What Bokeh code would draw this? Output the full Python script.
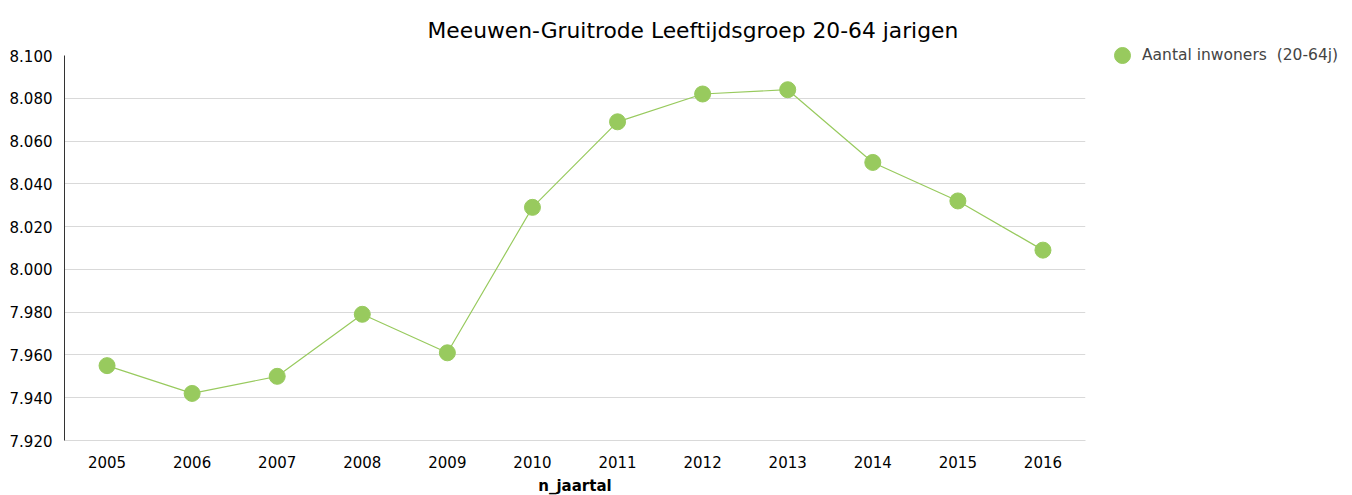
from bokeh.plotting import figure
from bokeh.models import (FixedTicker, CustomJSTickFormatter, Legend, LegendItem,
                          Range1d, Title, ColumnDataSource)
from bokeh.embed import file_html
from bokeh.resources import INLINE

years = [2005, 2006, 2007, 2008, 2009, 2010, 2011, 2012, 2013, 2014, 2015, 2016]
inwoners = [7955, 7942, 7950, 7979, 7961, 8029, 8069, 8082, 8084, 8050, 8032, 8009]
y_ticks = [7920, 7940, 7960, 7980, 8000, 8020, 8040, 8060, 8080, 8100]
title_text = "Meeuwen-Gruitrode  Leeftijdsgroep 20-64 jarigen"
series_name = "Aantal inwoners  (20-64j)"
x_label = "n_jaartal"

FONT = "DejaVu Sans"
GREEN = "#98CA5E"

p = figure(frame_width=1021, frame_height=385,
           output_backend="svg", toolbar_location=None,
           x_range=Range1d(2004.5, 2016.5), y_range=Range1d(7920, 8100),
           min_border_left=64, min_border_right=250, min_border_top=55, min_border_bottom=55)
p.outline_line_color = None
p.background_fill_color = "white"

src = ColumnDataSource(dict(x=years, y=inwoners))
r_line = p.line("x", "y", source=src, line_color=GREEN, line_width=1.2)
r_pts = p.scatter("x", "y", source=src, size=16, fill_color=GREEN, line_color=GREEN)

p.xgrid.grid_line_color = None
p.ygrid.grid_line_color = "#d9d9d9"
p.ygrid.ticker = FixedTicker(ticks=y_ticks)

p.xaxis.ticker = FixedTicker(ticks=years)
p.xaxis.formatter = CustomJSTickFormatter(code="return String(tick)")
p.xaxis.axis_line_color = "#d9d9d9"
p.xaxis.major_tick_line_color = None
p.xaxis.minor_tick_line_color = None
p.xaxis.major_label_text_font = FONT
p.xaxis.major_label_text_font_size = "15px"
p.xaxis.major_label_text_color = "#000000"
p.xaxis.major_label_standoff = 9
p.xaxis.axis_label = x_label
p.xaxis.axis_label_text_font = FONT
p.xaxis.axis_label_text_font_style = "bold"
p.xaxis.axis_label_text_font_size = "15px"
p.xaxis.axis_label_text_color = "#000000"
p.xaxis.axis_label_standoff = 6

p.yaxis.ticker = FixedTicker(ticks=y_ticks)
p.yaxis.formatter = CustomJSTickFormatter(code="return (tick/1000).toFixed(3)")
p.yaxis.axis_line_color = "#333333"
p.yaxis.major_tick_line_color = None
p.yaxis.minor_tick_line_color = None
p.yaxis.major_label_text_font = FONT
p.yaxis.major_label_text_font_size = "15px"
p.yaxis.major_label_text_color = "#000000"
p.yaxis.major_label_standoff = 6

legend = Legend(items=[LegendItem(label=series_name, renderers=[r_pts])],
                location=(17, 365), border_line_color=None, background_fill_alpha=0,
                label_text_font=FONT, label_text_font_size="15.5px",
                glyph_width=40, glyph_height=40, label_standoff=0, padding=0,
                margin=0, spacing=0)
p.add_layout(legend, "right")

p.add_layout(Title(text=title_text, text_font=FONT, text_font_size="21.8px",
                   text_font_style="normal", text_color="#000000",
                   align="left", vertical_align="top", offset=363, standoff=21), "above")

open("out.html", "w").write(file_html(p, INLINE))
